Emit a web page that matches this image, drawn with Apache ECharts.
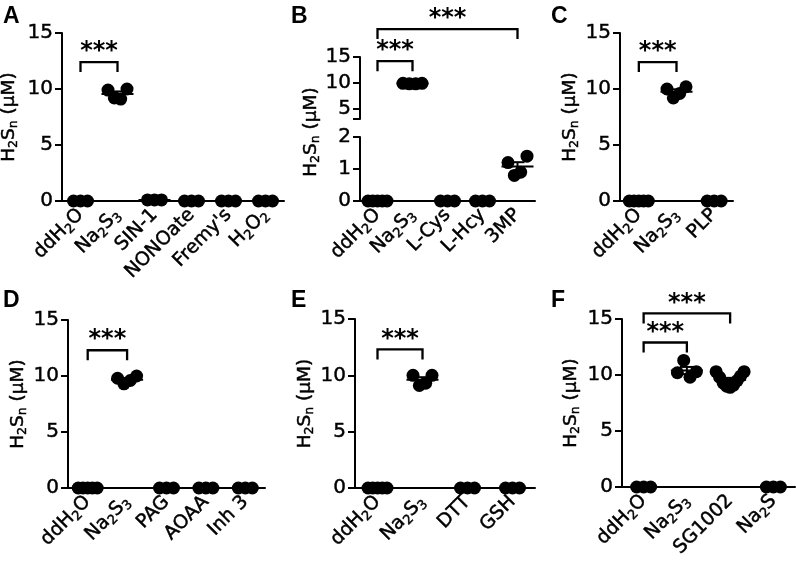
<!DOCTYPE html>
<html><head><meta charset="utf-8">
<script src="https://cdn.jsdelivr.net/npm/echarts@6/dist/echarts.min.js"></script>
<style>html,body{margin:0;padding:0;background:#fff}#c{width:796px;height:563px}</style>
</head><body><div id="c"></div>
<script>
const FONT = "'DejaVu Sans', 'Liberation Sans', Arial, sans-serif";
const FONT_BOLD = "'Liberation Sans', Arial, sans-serif";

// ---------------- data ----------------
const yTitle = 'H₂Sₙ (μM)';
const sigLabel = '***';
const panelLetters = ['A','B','C','D','E','F'];

const catsA = ['ddH₂O','Na₂S₃','SIN-1','NONOate',"Fremy's",'H₂O₂'];
const valsA = [[0,0,0],[9.9,9.2,9.1,10.0],[0.1,0.1,0.1],[0,0,0],[0,0,0],[0,0,0]];
const bracketsA = [[0,1,12.4]];

const catsB = ['ddH₂O','Na₂S₃','L-Cys','L-Hcy','3MP'];
const valsB = [[0,0,0,0,0],[9.9,9.8,9.8,9.9],[0,0,0],[0,0,0],[1.2,0.8,0.9,1.4]];
const bracketsB = [[0,1,14.2],[0,4,20.4]];

const catsC = ['ddH₂O','Na₂S₃','PLP'];
const valsC = [[0,0,0,0,0],[10.0,9.2,9.6,10.2],[0,0,0]];
const bracketsC = [[0,1,12.4]];

const catsD = ['ddH₂O','Na₂S₃','PAG','AOAA','Inh 3'];
const valsD = [[0,0,0,0,0],[9.8,9.3,9.6,10.0],[0,0,0],[0,0,0],[0,0,0]];
const bracketsD = [[0,1,12.3]];

const catsE = ['ddH₂O','Na₂S₃','DTT','GSH'];
const valsE = [[0,0,0,0,0],[10.0,9.1,9.3,10.0],[0,0,0],[0,0,0]];
const bracketsE = [[0,1,12.3]];

const catsF = ['ddH₂O','Na₂S₃','SG1002','Na₂S'];
const valsF = [[0,0,0],[10.2,11.3,9.8,10.3],[10.3,9.8,9.3,9.0,8.9,9.1,9.5,9.9,10.3],[0,0,0]];
const bracketsF = [[0,1,12.9],[0,2,15.5]];

const yRange = [0, 15];
const yStep = 5;
const yRangeBTop = [3, 15];
const yTicksBTop = [3, 5, 10, 15];
const yLabelsBTop = [5, 10, 15];
const yRangeBBottom = [0, 2];
const yStepBBottom = 1;
const breakValue = 3;

// ---------------- helpers ----------------
const SUB = {'₂':'2','₃':'3','ₙ':'n'};
function rich(s){
  let out='', cur='', curSub=null;
  for (const ch of s){
    const isSub = ch in SUB;
    if (curSub!==null && isSub!==curSub){ out += '{'+(curSub?'s':'n')+'|'+cur+'}'; cur=''; }
    curSub = isSub; cur += isSub ? SUB[ch] : ch;
  }
  if (cur) out += '{'+(curSub?'s':'n')+'|'+cur+'}';
  return out;
}
const FS = 19, FS_TICK = 20, TB = 0.45;
const richStyle = {
  n: {fontSize: FS, fontFamily: FONT, color:'#000', lineHeight: 23, textBorderColor:'#000', textBorderWidth:TB},
  s: {fontSize: 13, fontFamily: FONT, color:'#000', lineHeight: 13, padding:[10,0,0,0], textBorderColor:'#000', textBorderWidth:TB}
};
const richTitle = {
  n: {fontSize: 18.5, fontFamily: FONT, color:'#000', lineHeight: 22, textBorderColor:'#000', textBorderWidth:TB},
  s: {fontSize: 12.5, fontFamily: FONT, color:'#000', lineHeight: 12, padding:[10,0,0,0], textBorderColor:'#000', textBorderWidth:TB}
};
// same look, expressed in zrender style keys for the graphic component
const richTitleZr = {
  n: {fontSize: 18.5, fontFamily: FONT, fill:'#000', lineHeight: 22, stroke:'#000', lineWidth:TB},
  s: {fontSize: 12.5, fontFamily: FONT, fill:'#000', lineHeight: 12, padding:[10,0,0,0], stroke:'#000', lineWidth:TB}
};
const tickLabelStyle = {fontSize:FS_TICK, color:'#000', fontFamily:FONT, margin:9, textBorderColor:'#000', textBorderWidth:TB};
function offsets(k){
  if (k<=1) return [0];
  const spread = k<=3 ? 14 : (k<=5 ? 19 : 28);
  return Array.from({length:k}, (_,i) => -spread/2 + spread*i/(k-1));
}
function pointsOf(vals, filter){
  const out=[];
  vals.forEach((g,ci)=>{ const off=offsets(g.length); g.forEach((v,j)=>{ if(!filter||filter(v)) out.push({value:[ci,v], symbolOffset:[off[j],0]}); }); });
  return out;
}
function statsOf(vals, filter){
  const out=[];
  vals.forEach((g,ci)=>{
    const n=g.length, m=g.reduce((a,b)=>a+b,0)/n;
    const sd = n>1 ? Math.sqrt(g.reduce((a,b)=>a+(b-m)*(b-m),0)/(n-1)) : 0;
    if(!filter||filter(m)) out.push([ci, m, sd/Math.sqrt(n)]);
  });
  return out;
}
const BLACK = '#000';
function mkX(gi, cats, show){
  return {type:'category', gridIndex:gi, data:cats, boundaryGap:true, show:show,
    axisLine:{show:true, lineStyle:{color:BLACK, width:2}}, axisTick:{show:false},
    axisLabel:{interval:0, rotate:45, margin:11, fontSize:FS, fontFamily:FONT, color:BLACK,
      formatter:(v)=>rich(v), rich:richStyle},
    splitLine:{show:false}};
}
function mkY(gi, min, max, extra){
  return Object.assign({type:'value', gridIndex:gi, min, max,
    axisLine:{show:true, lineStyle:{color:BLACK, width:2}},
    axisTick:{show:true, length:7, lineStyle:{color:BLACK, width:2}},
    axisLabel:Object.assign({}, tickLabelStyle),
    splitLine:{show:false}}, extra||{});
}
function yName(gap){
  return {name: rich(yTitle), nameLocation:'middle', nameGap:gap, nameRotate:90,
    nameTextStyle:{rich:richTitle}};
}
function scatter(gi, data){
  return {type:'scatter', xAxisIndex:gi, yAxisIndex:gi, data, symbol:'circle', symbolSize:13,
    itemStyle:{color:BLACK, opacity:1, borderWidth:0}, silent:true, z:2};
}
function meanSeries(gi, data){
  return {type:'custom', xAxisIndex:gi, yAxisIndex:gi, data, clip:false, silent:true, z:3,
    renderItem(p, api){
      const c = api.coord([api.value(0), api.value(1)]);
      const t = api.coord([api.value(0), api.value(1)+api.value(2)]);
      const b = api.coord([api.value(0), api.value(1)-api.value(2)]);
      const ch=[];
      const st = {stroke:BLACK, lineWidth:2};
      ch.push({type:'line', shape:{x1:c[0]-16,y1:c[1],x2:c[0]+16,y2:c[1]}, style:st});
      if (Math.abs(t[1]-c[1])>0.5){
        ch.push({type:'line', shape:{x1:c[0],y1:t[1],x2:c[0],y2:b[1]}, style:st});
        ch.push({type:'line', shape:{x1:c[0]-7,y1:t[1],x2:c[0]+7,y2:t[1]}, style:st});
        ch.push({type:'line', shape:{x1:c[0]-7,y1:b[1],x2:c[0]+7,y2:b[1]}, style:st});
      }
      return {type:'group', children:ch};
    }};
}
function bracketSeries(gi, data){
  return {type:'custom', xAxisIndex:gi, yAxisIndex:gi, data, clip:false, silent:true, z:4,
    renderItem(p, api){
      const a = api.coord([api.value(0), api.value(2)]);
      const b = api.coord([api.value(1), api.value(2)]);
      return {type:'group', children:[
        {type:'polyline', shape:{points:[[a[0],a[1]+10],[a[0],a[1]],[b[0],b[1]],[b[0],b[1]+10]]},
          style:{stroke:BLACK, lineWidth:2.3, fill:null}},
        {type:'text', x:(a[0]+b[0])/2, y:a[1]-10,
          style:{text:sigLabel, font:'bold 24px '+FONT, fill:BLACK, align:'center', verticalAlign:'middle'}}
      ]};
    }};
}

// ---------------- layout ----------------
const grids = [
  {left:62, top:33, width:222, height:168},   // 0 A
  {left:360, top:57, width:175, height:62},   // 1 B top
  {left:360, top:137, width:175, height:64},  // 2 B bottom
  {left:620, top:33, width:113, height:168},  // 3 C
  {left:68, top:320, width:197, height:168},  // 4 D
  {left:355, top:319, width:180, height:169}, // 5 E
  {left:622, top:319, width:173, height:168}  // 6 F
].map(g=>Object.assign({outerBoundsMode:'none', containLabel:false}, g));

const xAxes = [
  mkX(0, catsA, true), mkX(1, catsB, false), mkX(2, catsB, true),
  mkX(3, catsC, true), mkX(4, catsD, true), mkX(5, catsE, true), mkX(6, catsF, true)
];
const yAxes = [
  mkY(0, yRange[0], yRange[1], Object.assign({interval:yStep}, yName(42))),
  mkY(1, yRangeBTop[0], yRangeBTop[1], {
    axisTick:{show:true, length:7, lineStyle:{color:BLACK, width:2}, customValues:yTicksBTop},
    axisLabel:Object.assign({customValues:yLabelsBTop}, tickLabelStyle)}),
  mkY(2, yRangeBBottom[0], yRangeBBottom[1], {interval:yStepBBottom}),
  mkY(3, yRange[0], yRange[1], Object.assign({interval:yStep}, yName(38))),
  mkY(4, yRange[0], yRange[1], Object.assign({interval:yStep}, yName(35))),
  mkY(5, yRange[0], yRange[1], Object.assign({interval:yStep}, yName(34))),
  mkY(6, yRange[0], yRange[1], Object.assign({interval:yStep}, yName(40)))
];

const isTop = v => v >= breakValue, isBot = v => v < breakValue;
const seriesList = [
  scatter(0, pointsOf(valsA)), meanSeries(0, statsOf(valsA)), bracketSeries(0, bracketsA),
  scatter(1, pointsOf(valsB, isTop)), meanSeries(1, statsOf(valsB, isTop)), bracketSeries(1, bracketsB),
  scatter(2, pointsOf(valsB, isBot)), meanSeries(2, statsOf(valsB, isBot)),
  scatter(3, pointsOf(valsC)), meanSeries(3, statsOf(valsC)), bracketSeries(3, bracketsC),
  scatter(4, pointsOf(valsD)), meanSeries(4, statsOf(valsD)), bracketSeries(4, bracketsD),
  scatter(5, pointsOf(valsE)), meanSeries(5, statsOf(valsE)), bracketSeries(5, bracketsE),
  scatter(6, pointsOf(valsF)), meanSeries(6, statsOf(valsF)), bracketSeries(6, bracketsF)
];

const letterPos = [[3,5],[291,5],[551,5],[3,289],[291,289],[551,289]];
const graphicList = panelLetters.map((L,i)=>({type:'text', left:letterPos[i][0], top:letterPos[i][1],
  style:{text:L, font:'bold 23px '+FONT_BOLD, fill:BLACK}}));
graphicList.push({type:'text', x:311, y:132, rotation:Math.PI/2,
  style:{text:rich(yTitle), rich:richTitleZr, align:'center', verticalAlign:'middle'}});

const chart = echarts.init(document.getElementById('c'), null, {renderer:'canvas'});
chart.setOption({
  animation:false, backgroundColor:'#fff',
  textStyle:{fontFamily:FONT, color:BLACK},
  grid:grids, xAxis:xAxes, yAxis:yAxes, series:seriesList, graphic:graphicList
});
</script></body></html>
